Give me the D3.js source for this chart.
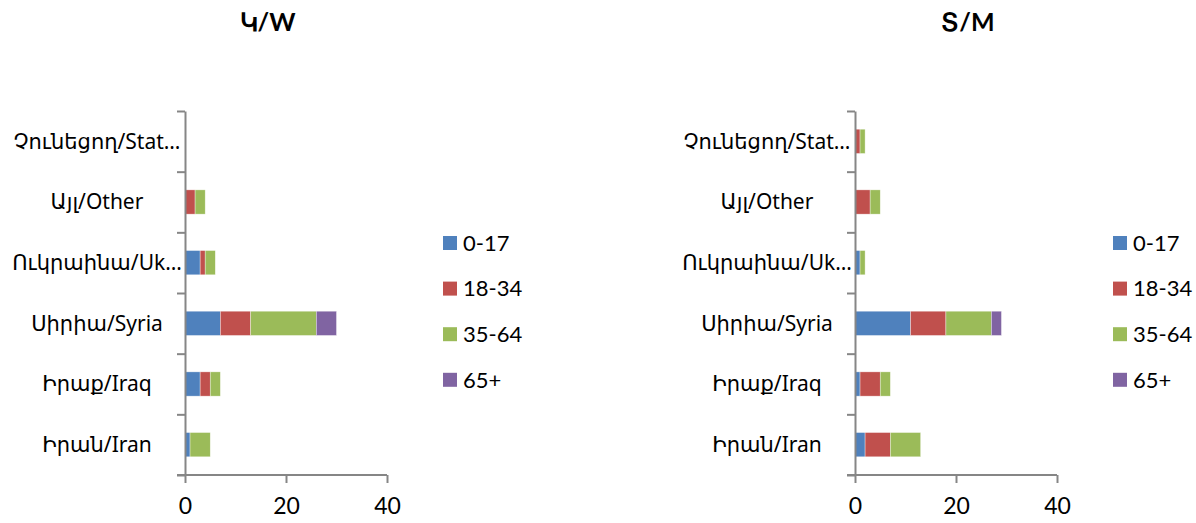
<!DOCTYPE html>
<html>
<head>
<meta charset="utf-8">
<script src="https://cdn.jsdelivr.net/npm/d3@7"></script>
<style>
  html, body { margin: 0; padding: 0; background: #fff; }
  svg { display: block; }
</style>
</head>
<body>
<svg id="chart" width="1196" height="523"></svg>
<script>
// ---- data ----
const categories = ["Չունեցող/Stat…", "Այլ/Other", "Ուկրաինա/Uk…", "Սիրիա/Syria", "Իրաք/Iraq", "Իրան/Iran"];
const seriesNames = ["0-17", "18-34", "35-64", "65+"];
const xTicks = [0, 20, 40];

const women017  = [0, 0, 3, 7, 3, 1];
const women1834 = [0, 2, 1, 6, 2, 0];
const women3564 = [0, 2, 2, 13, 2, 4];
const women65   = [0, 0, 0, 4, 0, 0];

const men017  = [0, 0, 1, 11, 1, 2];
const men1834 = [1, 3, 0, 7, 4, 5];
const men3564 = [1, 2, 1, 9, 2, 6];
const men65   = [0, 0, 0, 2, 0, 0];

const titles = ["Կ/W", "Տ/M"];

// ---- style / layout ----
const colors = ["#4F81BD", "#C0504D", "#9BBB59", "#8064A2"];
const axisColor = "#868686";
const numFont = "Lato, 'Open Sans', sans-serif";
const catFont = "'Noto Sans', 'DejaVu Sans', sans-serif";

const svg = d3.select("#chart");

function buildRows(s0, s1, s2, s3) {
  return categories.map((c, i) => ({
    cat: c,
    [seriesNames[0]]: s0[i],
    [seriesNames[1]]: s1[i],
    [seriesNames[2]]: s2[i],
    [seriesNames[3]]: s3[i]
  }));
}

const panels = [
  { rows: buildRows(women017, women1834, women3564, women65), title: titles[0], x0: 185, titleX: 267.5 },
  { rows: buildRows(men017, men1834, men3564, men65), title: titles[1], x0: 855, titleX: 968 }
];

const plotTop = 111, plotBottom = 475, plotW = 202;

panels.forEach(p => {
  const g = svg.append("g");
  const x = d3.scaleLinear().domain([0, 40]).range([p.x0, p.x0 + plotW]);
  const y = d3.scaleBand().domain(categories).range([plotTop, plotBottom])
    .paddingInner(0.6).paddingOuter(0.3);
  const yIdx = d3.scaleLinear().domain([0, categories.length]).range([plotBottom, plotTop]);

  // title
  g.append("text")
    .attr("x", p.titleX).attr("y", 31)
    .attr("text-anchor", "middle")
    .attr("font-family", numFont)
    .attr("font-weight", "bold")
    .attr("font-size", 25)
    .attr("fill", "#000")
    .text(p.title);

  // bars
  const stack = d3.stack().keys(seriesNames);
  const layers = stack(p.rows);
  g.selectAll("g.layer").data(layers).join("g")
    .attr("class", "layer")
    .attr("fill", (d, i) => colors[i])
    .selectAll("rect").data(d => d).join("rect")
      .attr("x", d => x(d[0]))
      .attr("y", d => y(d.data.cat))
      .attr("width", d => Math.max(0, x(d[1]) - x(d[0])))
      .attr("height", y.bandwidth())
      .attr("stroke", d => (d[1] - d[0]) > 0 ? "#fff" : "none")
      .attr("stroke-opacity", 0.6)
      .attr("stroke-width", 0.6);

  // y axis: boundary ticks
  const yAxis = g.append("g")
    .attr("transform", `translate(${p.x0},0)`)
    .call(d3.axisLeft(yIdx).ticks(categories.length).tickSize(8).tickSizeOuter(0).tickFormat(""));
  yAxis.selectAll("path, line").attr("stroke", axisColor).attr("stroke-width", 2);

  // y category labels
  g.append("g").selectAll("text").data(categories).join("text")
    .attr("x", p.x0 - 88)
    .attr("y", d => y(d) + y.bandwidth() / 2)
    .attr("dy", "0.35em")
    .attr("text-anchor", "middle")
    .attr("font-family", catFont)
    .attr("font-size", 21)
    .attr("fill", "#000")
    .text(d => d);

  // x axis
  const xAxis = g.append("g")
    .attr("transform", `translate(0,${plotBottom})`)
    .call(d3.axisBottom(x).tickValues(xTicks).tickSize(8).tickSizeOuter(0).tickPadding(15));
  xAxis.select(".domain").attr("d", `M${p.x0 - 8},0H${p.x0 + plotW}`);
  xAxis.selectAll("path, line").attr("stroke", axisColor).attr("stroke-width", 2);
  xAxis.selectAll("text")
    .attr("font-family", numFont)
    .attr("font-size", 23)
    .attr("fill", "#000");

  // legend
  const lg = g.append("g").attr("transform", `translate(${p.x0 + 258},0)`);
  const items = lg.selectAll("g").data(seriesNames).join("g")
    .attr("transform", (d, i) => `translate(0,${243 + i * 45.6})`);
  items.append("rect")
    .attr("x", 0).attr("y", -7).attr("width", 14).attr("height", 14)
    .attr("fill", (d, i) => colors[i]);
  items.append("text")
    .attr("x", 20).attr("y", 0).attr("dy", "0.35em")
    .attr("font-family", numFont)
    .attr("font-size", 22)
    .attr("fill", "#000")
    .text(d => d);
});
</script>
</body>
</html>
